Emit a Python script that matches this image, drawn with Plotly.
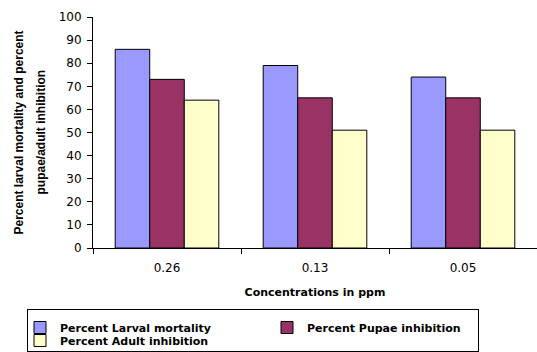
import plotly.graph_objects as go

categories = ["0.26", "0.13", "0.05"]
larval = [86, 79, 74]
pupae = [73, 65, 65]
adult = [64, 51, 51]
series_names = ["Percent Larval mortality", "Percent Pupae inhibition", "Percent Adult inhibition"]
colors = ["#9999FF", "#993366", "#FFFFCC"]
y_ticks = [0, 10, 20, 30, 40, 50, 60, 70, 80, 90, 100]
y_title_lines = ["Percent larval mortality and percent", "pupae/adult inhibition"]
x_title = "Concentrations in ppm"

WIDE = "DejaVu Sans, Verdana, sans-serif"
NARROW = "Liberation Sans, Arial, sans-serif"

L, R, T, B = 93, 0, 17, 104
W, H = 537, 352
pw = W - L - R
ph = H - T - B

def px(x):
    return (x - L) / pw

def py(y):
    return (H - B - y) / ph

fig = go.Figure()
legends = ["legend", "legend", "legend2"]
for name, vals, col, lg in zip(series_names, [larval, pupae, adult], colors, legends):
    fig.add_trace(go.Bar(
        x=categories, y=vals, name=name, legend=lg,
        marker=dict(color=col, line=dict(color="black", width=1)),
    ))

legend_common = dict(
    orientation="h", xanchor="left", yanchor="top",
    entrywidth=202, font=dict(size=11, family=WIDE, weight="bold", color="black"),
    bgcolor="rgba(0,0,0,0)", itemwidth=30,
)

fig.update_layout(
    width=W, height=H,
    margin=dict(l=L, r=R, t=T, b=B, autoexpand=False),
    paper_bgcolor="white", plot_bgcolor="white",
    font=dict(family=WIDE, size=12, color="black"),
    barmode="group", bargap=0.3, bargroupgap=0,
    xaxis=dict(
        showline=True, linecolor="black", linewidth=1,
        ticks="outside", tickson="boundaries", ticklen=5, tickcolor="black",
        showgrid=False, tickfont=dict(size=12, family=WIDE), ticklabelstandoff=9,
        title=dict(text=x_title, font=dict(size=11, family=WIDE, weight="bold"), standoff=13),
    ),
    yaxis=dict(
        range=[0, 100], tickvals=y_ticks,
        showline=True, linecolor="black", linewidth=1,
        ticks="outside", ticklen=5, tickcolor="black",
        showgrid=False, zeroline=False, tickfont=dict(size=12, family=WIDE),
        ticklabelstandoff=3,
    ),
    legend=dict(x=px(20), y=py(313), **legend_common),
    legend2=dict(x=px(20), y=py(326), **legend_common),
    annotations=[
        dict(text=y_title_lines[0], xref="paper", yref="paper", x=px(18), y=0.5,
             xanchor="center", yanchor="middle", textangle=-90, showarrow=False,
             font=dict(size=12, family=NARROW, weight="bold")),
        dict(text=y_title_lines[1], xref="paper", yref="paper", x=px(40), y=0.5,
             xanchor="center", yanchor="middle", textangle=-90, showarrow=False,
             font=dict(size=12, family=NARROW, weight="bold")),
        dict(text=" ", xref="paper", yref="paper", x=px(27), y=py(309),
             xanchor="left", yanchor="top", showarrow=False,
             width=450, height=41, borderpad=0, borderwidth=1, bordercolor="black"),
    ],
)

fig.write_html("out.html")
